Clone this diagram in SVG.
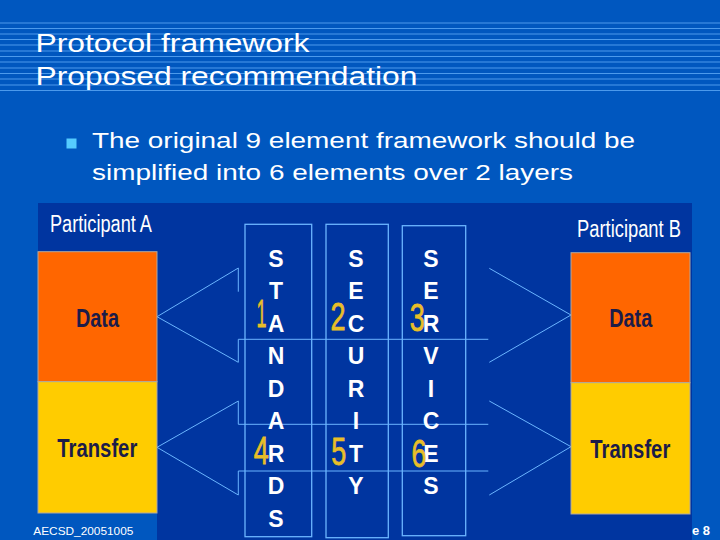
<svg xmlns="http://www.w3.org/2000/svg" width="720" height="540" viewBox="0 0 720 540">
<style>
.bg{fill:#0057BF}
.panel{fill:#0035A0}
.stripe{stroke:#4C9AEC;stroke-width:1;fill:none}
.title{font-family:"Liberation Sans",Arial,sans-serif;font-size:26px;fill:#FFFFFF}
.body{font-family:"Liberation Sans",Arial,sans-serif;font-size:22px;fill:#FFFFFF}
.hdr{font-family:"Liberation Sans Narrow","Liberation Sans",Arial,sans-serif;font-size:23px;fill:#FFFFFF}
.lbl{font-family:"Liberation Sans Narrow","Liberation Sans",Arial,sans-serif;font-size:25px;font-weight:bold;fill:#1C1C48;text-anchor:middle}
.data{fill:#FF6600;stroke:#B0A8A0;stroke-width:1}
.xfer{fill:#FFCC00;stroke:#B0A8A0;stroke-width:1}
.col{fill:none;stroke:#6BB5FF;stroke-width:1.3}
.let{font-family:"Liberation Sans Narrow","Liberation Sans",Arial,sans-serif;font-size:23px;font-weight:bold;fill:#FFFFFF;text-anchor:middle}
.num{font-family:"Liberation Sans Narrow","Liberation Sans",Arial,sans-serif;font-size:39px;fill:#E8BE28;stroke:#E8BE28;stroke-width:0.8}
.conn{fill:none;stroke:#6BB5FF;stroke-width:1}
.foot{font-family:"Liberation Sans",Arial,sans-serif;font-size:10.5px;fill:#FFFFFF}
</style>
<rect class="bg" x="0" y="0" width="720" height="540"/>
<path class="stripe" d="M0 23H720M0 28.5H720M0 34H720M0 39.5H720M0 45H720M0 51H720M0 56.5H720M0 62H720M0 68H720M0 73.5H720M0 79H720M0 85H720M0 90.5H720"/>
<g id="title">
<text class="title" x="35.5" y="52" textLength="274" lengthAdjust="spacingAndGlyphs">Protocol framework</text>
<text class="title" x="35.5" y="84.5" textLength="382" lengthAdjust="spacingAndGlyphs">Proposed recommendation</text>
</g>
<g id="bullet">
<rect x="66.5" y="138.5" width="10" height="10" fill="#55CCFF"/>
<text class="body" x="92" y="148" textLength="543" lengthAdjust="spacingAndGlyphs">The original 9 element framework should be</text>
<text class="body" x="92" y="180" textLength="481" lengthAdjust="spacingAndGlyphs">simplified into 6 elements over 2 layers</text>
</g>
<g id="panel">
<rect class="panel" x="38" y="203" width="654" height="310"/>
<rect class="panel" x="157" y="203" width="535" height="337"/>
</g>
<g id="connectors">
<polyline class="conn" points="238.3,291.7 238.3,268 157,316.7 238.3,362.3 238.3,339.3"/>
<polyline class="conn" points="238.3,424.3 238.3,401 157,447.3 238.3,495 238.3,471"/>
<path class="conn" d="M238.3 339.3H488.3M238.3 424.3H488.3M238.3 471H488.3"/>
<polyline class="conn" points="489.3,268.3 571,315 489.3,362.3"/>
<polyline class="conn" points="489.3,401 571,446.7 489.3,495"/>
</g>
<g id="participantA">
<text class="hdr" x="50" y="231.5" textLength="102" lengthAdjust="spacingAndGlyphs">Participant A</text>
<rect class="data" x="38" y="251.7" width="119" height="130"/>
<rect class="xfer" x="38" y="381.7" width="119" height="131.3"/>
<text class="lbl" x="97.5" y="326.7" textLength="43" lengthAdjust="spacingAndGlyphs">Data</text>
<text class="lbl" x="97.3" y="457.3" textLength="80" lengthAdjust="spacingAndGlyphs">Transfer</text>
</g>
<g id="participantB">
<text class="hdr" x="577" y="236.7" textLength="104" lengthAdjust="spacingAndGlyphs">Participant B</text>
<rect class="data" x="571" y="252.7" width="119" height="130"/>
<rect class="xfer" x="571" y="382.7" width="119" height="131.3"/>
<text class="lbl" x="630.7" y="327.3" textLength="43" lengthAdjust="spacingAndGlyphs">Data</text>
<text class="lbl" x="630.3" y="458.3" textLength="80" lengthAdjust="spacingAndGlyphs">Transfer</text>
</g>
<g id="standards">
<rect class="col" x="245" y="224.3" width="66.7" height="312.4"/>
<text class="let" x="276" y="266.5">S</text>
<text class="let" x="276" y="299">T</text>
<text class="let" x="276" y="331.5">A</text>
<text class="let" x="276" y="364">N</text>
<text class="let" x="276" y="396.5">D</text>
<text class="let" x="276" y="429">A</text>
<text class="let" x="276" y="461.5">R</text>
<text class="let" x="276" y="494">D</text>
<text class="let" x="276" y="526.5">S</text>
</g>
<g id="security">
<rect class="col" x="326" y="224.3" width="62.3" height="313.4"/>
<text class="let" x="356" y="266.5">S</text>
<text class="let" x="356" y="299">E</text>
<text class="let" x="356" y="331.5">C</text>
<text class="let" x="356" y="364">U</text>
<text class="let" x="356" y="396.5">R</text>
<text class="let" x="356" y="429">I</text>
<text class="let" x="356" y="461.5">T</text>
<text class="let" x="356" y="494">Y</text>
</g>
<g id="services">
<rect class="col" x="402.3" y="225.7" width="63.4" height="310"/>
<text class="let" x="431" y="266.5">S</text>
<text class="let" x="431" y="299">E</text>
<text class="let" x="431" y="331.5">R</text>
<text class="let" x="431" y="364">V</text>
<text class="let" x="431" y="396.5">I</text>
<text class="let" x="431" y="429">C</text>
<text class="let" x="431" y="461.5">E</text>
<text class="let" x="431" y="494">S</text>
</g>
<g id="numbers">
<text class="num" x="256.5" y="327.3" textLength="10" lengthAdjust="spacingAndGlyphs">1</text>
<text class="num" x="330.5" y="330" textLength="15" lengthAdjust="spacingAndGlyphs">2</text>
<text class="num" x="409.8" y="331" textLength="15" lengthAdjust="spacingAndGlyphs">3</text>
<text class="num" x="253.8" y="464.3" textLength="15" lengthAdjust="spacingAndGlyphs">4</text>
<text class="num" x="331.3" y="465" textLength="15" lengthAdjust="spacingAndGlyphs">5</text>
<text class="num" x="411.4" y="466.5" textLength="15" lengthAdjust="spacingAndGlyphs">6</text>
</g>
<g id="footer">
<text class="foot" x="33.3" y="535" textLength="100" lengthAdjust="spacingAndGlyphs">AECSD_20051005</text>
<text class="foot" x="692" y="535" style="font-size:13px;font-weight:bold">e 8</text>
</g>
</svg>
